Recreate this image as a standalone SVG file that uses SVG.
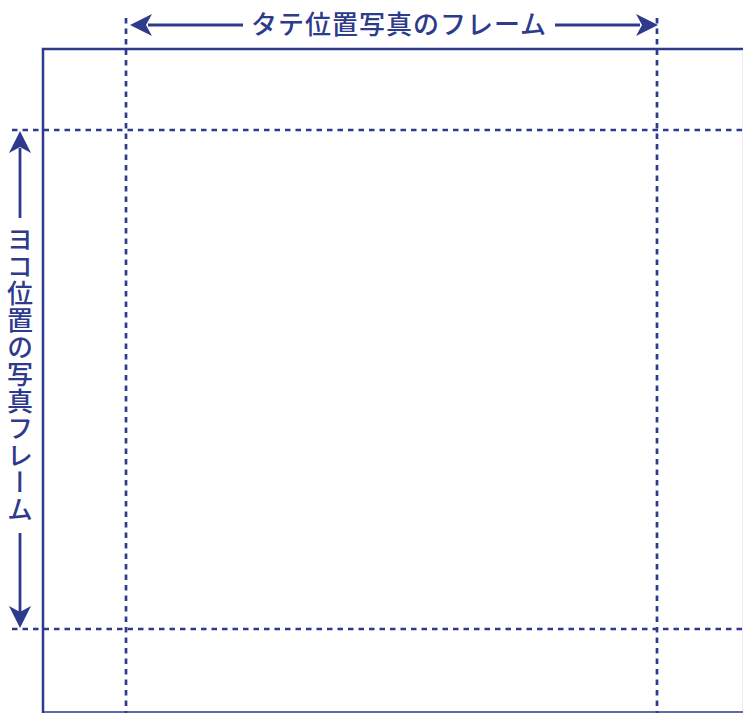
<svg xmlns="http://www.w3.org/2000/svg" width="743" height="713" viewBox="0 0 743 713">
<defs>
<style>
.frame{fill:none;stroke:#2e3a8c;stroke-width:2.5}
.dash{fill:none;stroke:#2e3a8c;stroke-width:2.7;stroke-dasharray:5.5 5}
.arr{fill:none;stroke:#2e3a8c;stroke-width:2.8}
.head{fill:#2e3a8c}
.lbl{font-family:"Noto Sans CJK JP","Noto Sans",sans-serif;font-size:26px;font-weight:500;fill:#2e3a8c;letter-spacing:1px}
</style>
</defs>
<rect width="743" height="713" fill="#fff"/>
<g id="frame">
<path class="frame" d="M743,49 H43 V713"/>
<line x1="43" y1="712" x2="743" y2="712" stroke="#2e3a8c" stroke-width="1.6"/>
<line x1="742.5" y1="50" x2="742.5" y2="711" stroke="#eeeeee" stroke-width="1"/>
</g>
<g id="guides">
<line class="dash" x1="126" y1="18" x2="126" y2="713"/>
<line class="dash" x1="657" y1="18" x2="657" y2="713"/>
<line class="dash" x1="12" y1="130" x2="743" y2="130"/>
<line class="dash" x1="12" y1="629" x2="743" y2="629"/>
</g>
<g id="connectors">
<line class="arr" x1="148" y1="25" x2="243" y2="25"/>
<path class="head" d="M130,25 L152,14 L146,25 L152,36 Z"/>
<line class="arr" x1="555" y1="25" x2="640" y2="25"/>
<path class="head" d="M658,25 L636,14 L642,25 L636,36 Z"/>
<line class="arr" x1="20" y1="148" x2="20" y2="218"/>
<path class="head" d="M20,131 L9,153 L20,147 L31,153 Z"/>
<line class="arr" x1="20" y1="533" x2="20" y2="612"/>
<path class="head" d="M20,628 L9,606 L20,612 L31,606 Z"/>
</g>
<g id="label-top">
<text class="lbl" x="399" y="34" text-anchor="middle">タテ位置写真のフレーム</text>
</g>
<g id="label-left">
<text class="lbl" x="20" y="375" text-anchor="middle" style="writing-mode:vertical-rl">ヨコ位置の写真フレーム</text>
</g>
</svg>
